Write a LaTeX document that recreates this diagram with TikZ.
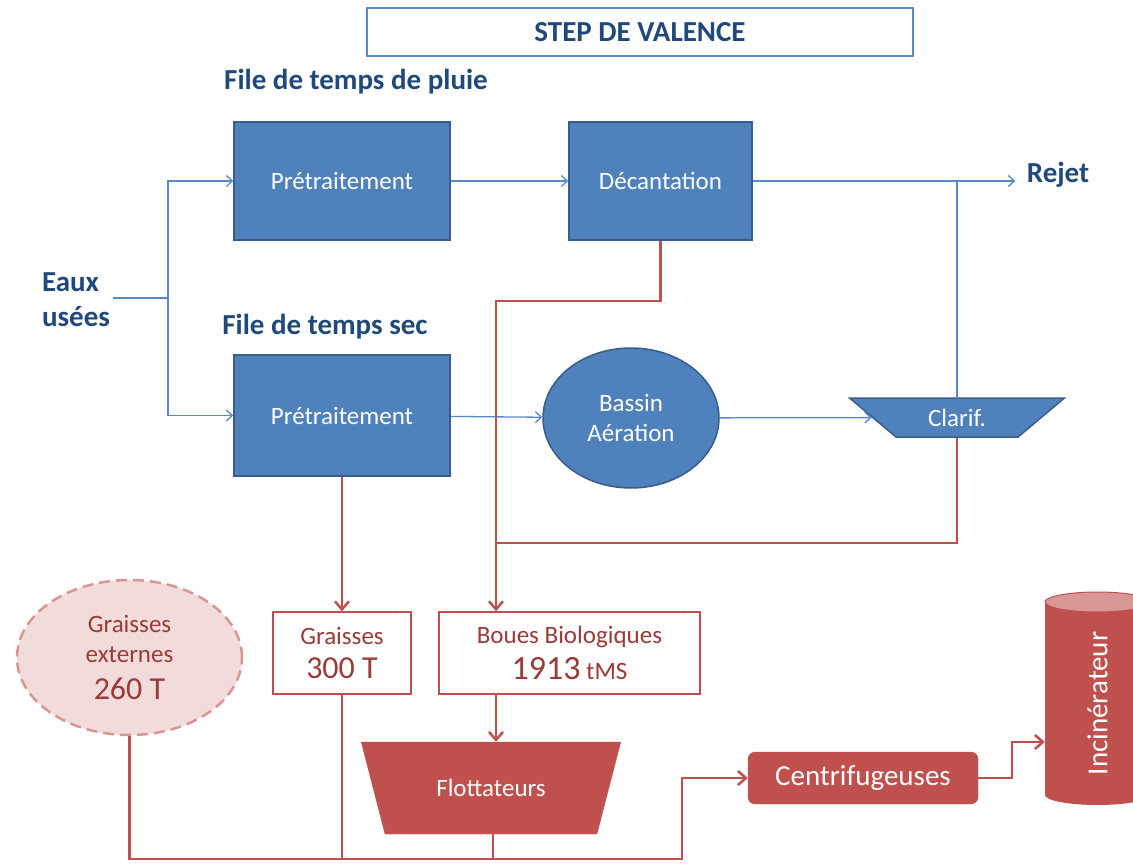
\documentclass[tikz,border=0pt]{standalone}
\usepackage{fontspec}
\setmainfont{Carlito}
\usetikzlibrary{shapes.geometric,arrows.meta}

\definecolor{stepblue}{HTML}{4F81BD}
\definecolor{stepblueedge}{HTML}{385D8A}
\definecolor{flowblue}{HTML}{5A8AC6}
\definecolor{headblue}{HTML}{1F497D}
\definecolor{stepred}{HTML}{C0504D}
\definecolor{sludgetext}{HTML}{9B3A37}
\definecolor{pinkfill}{HTML}{F2DCDB}
\definecolor{pinkedge}{HTML}{D99694}

\tikzset{
  txt/.style={font=\fontsize{25}{30}\selectfont},
  heading/.style={text=headblue, font=\fontsize{29}{35}\bfseries\selectfont},
  bluebox/.style={draw=stepblueedge, line width=1.5pt, fill=stepblue, text=white,
    minimum width=216pt, minimum height=118pt, txt},
  redbox/.style={draw=stepred, line width=1.5pt, fill=white, text=sludgetext,
    align=center, txt},
  blueflow/.style={draw=flowblue, line width=1.3pt, -{Straight Barb[length=6pt,width=11pt]}},
  redflow/.style={draw=stepred, line width=2.5pt},
  redarrow/.style={redflow, -{Straight Barb[length=8pt,width=14pt]}},
}

\begin{document}
\begin{tikzpicture}[x=1pt,y=-1pt]
\useasboundingbox (0,0) rectangle (1133,864);
\clip (0,0) rectangle (1133,864);

\node[draw=flowblue, line width=2pt, minimum width=546pt, minimum height=48pt, heading] (titre) at (640,32) {STEP DE VALENCE};
\node[heading] (pluie) at (356,82) {File de temps de pluie};
\node[heading] (sec) at (325,327) {File de temps sec};
\node[heading, align=left] (eaux) at (76,300) {Eaux\\usées};
\node[heading] (rejet) at (1058,175) {Rejet};

% file eau
\node[bluebox] (pre1) at (342,181) {Prétraitement};
\node[bluebox, minimum width=183pt] (dec) at (660.5,181) {Décantation};
\node[bluebox, minimum height=121pt] (pre2) at (342,415.5) {Prétraitement};
\node[ellipse, draw=stepblueedge, line width=1.5pt, fill=stepblue, text=white, txt,
  minimum width=176pt, minimum height=140pt, align=center] (bassin) at (631,418) {Bassin\\Aération};
\node[trapezium, trapezium stretches, trapezium left angle=42.5, trapezium right angle=42.5,
  shape border rotate=180, minimum width=215pt, minimum height=39pt, inner sep=2pt,
  fill=stepblue, draw=stepblueedge, line width=1.5pt, text=white, txt] (clarif) at (957,417.5) {Clarif.};

\coordinate (split) at (168,298);
\draw[blueflow, -] (eaux.east |- split) -- (split);
\draw[blueflow] (split) |- (pre1.west);
\draw[blueflow] (split) |- (pre2.west);
\draw[blueflow] (pre1) -- (dec);
\draw[blueflow, shorten >=8pt] (dec.east) -- (dec.east -| rejet.west);
\draw[blueflow, -] (clarif.north) -- (clarif.north |- dec.east);
\draw[blueflow] (pre2) -- (bassin);
\draw[blueflow] (bassin) -- (clarif);

% file boues
\node[redbox, minimum width=138pt, minimum height=82pt] (grais) at (342,653) {Graisses\\[4pt]{\fontsize{32}{36}\selectfont 300 T}};
\node[redbox, minimum width=261pt, minimum height=82pt] (boues) at (569.5,653) {Boues Biologiques\\[6pt]{\fontsize{34}{38}\selectfont 1913} tMS};
\node[ellipse, draw=pinkedge, fill=pinkfill, dash pattern=on 11pt off 6pt, line width=2.5pt,
  minimum width=225pt, minimum height=155pt, align=center, text=sludgetext, txt] (ext) at (129.5,657.5)
  {Graisses\\externes\\[7pt]{\fontsize{32}{36}\selectfont 260 T}};
\node[trapezium, trapezium stretches, trapezium left angle=61.7, trapezium right angle=61.7,
  shape border rotate=180, minimum width=260pt, minimum height=92pt,
  fill=stepred, draw=stepred, text=white, txt] (flot) at (491,788) {Flottateurs};
\node[rounded corners=7pt, fill=stepred, draw=stepred, text=white, minimum width=230pt,
  minimum height=52pt, font=\fontsize{29}{35}\selectfont] (centri) at (863,778) {Centrifugeuses};

\fill[stepred] (1045,602) rectangle (1150,795);
\fill[stepred] (1097.5,795) ellipse [x radius=52.5, y radius=10];
\fill[pinkedge, draw=stepred, line width=1pt] (1097.5,602) ellipse [x radius=52.5, y radius=10];
\node[minimum width=105pt, minimum height=213pt] (incin) at (1097.5,698.5) {};
\node[rotate=90, text=white, font=\fontsize{29}{35}\selectfont] (incintxt) at (1097.5,703.5) {Incinérateur};

\coordinate (merge) at (496,543);
\coordinate (out) at (493,859);
\draw[redarrow] (dec.south) -- ++(0,60) -| (boues.north -| merge);
\draw[redflow] (clarif.south) |- (merge);
\draw[redarrow] (pre2) -- (grais);
\draw[redarrow] (boues.south -| merge) -- (flot.north -| merge);
\draw[redflow] (ext.south) |- (out);
\draw[redflow] (grais.south) -- (grais.south |- out);
\draw[redarrow] (flot.south -| out) -- (out) -- ++(189,0) |- (centri.west);
\draw[redarrow] (centri.east) -- ++(34,0) |- ([yshift=-43.5pt]incin.west);

\end{tikzpicture}
\end{document}
